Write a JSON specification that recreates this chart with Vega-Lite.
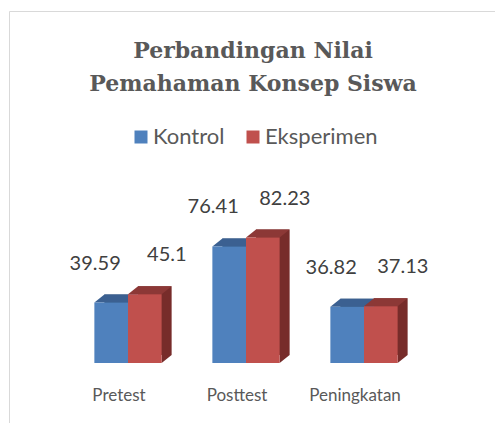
{
  "$schema": "https://vega.github.io/schema/vega-lite/v6.json",
  "width": 488,
  "height": 420,
  "autosize": {"type": "none"},
  "padding": {"left": 9, "top": 11, "right": 0, "bottom": 0},
  "background": "white",
  "config": {"view": {"stroke": "#d9d9d9", "strokeWidth": 1}, "font": "Lato"},
  "title": {
    "text": ["Perbandingan Nilai", "Pemahaman Konsep Siswa"],
    "font": "DejaVu Serif",
    "fontSize": 22,
    "fontWeight": "bold",
    "color": "#595959",
    "anchor": "middle",
    "lineHeight": 33,
    "baseline": "top",
    "offset": -85
  },
  "data": {
    "values": [
      {"tes": "Pretest", "kelompok": "Kontrol", "nilai": 39.59},
      {"tes": "Pretest", "kelompok": "Eksperimen", "nilai": 45.1},
      {"tes": "Posttest", "kelompok": "Kontrol", "nilai": 76.41},
      {"tes": "Posttest", "kelompok": "Eksperimen", "nilai": 82.23},
      {"tes": "Peningkatan", "kelompok": "Kontrol", "nilai": 36.82},
      {"tes": "Peningkatan", "kelompok": "Eksperimen", "nilai": 37.13}
    ]
  },
  "encoding": {
    "x": {
      "field": "tes",
      "type": "nominal",
      "sort": ["Pretest", "Posttest", "Peningkatan"],
      "scale": {"type": "band", "range": [60, 414], "paddingInner": 0.43, "paddingOuter": 0.215},
      "axis": {
        "title": null,
        "orient": "bottom",
        "offset": -44,
        "ticks": false,
        "domain": false,
        "labelPadding": 0,
        "labelAngle": 0,
        "labelOffset": -9,
        "labelFont": "Lato",
        "labelFontSize": 17,
        "labelColor": "#595959",
        "zindex": 1
      }
    },
    "y": {
      "field": "nilai",
      "type": "quantitative",
      "scale": {"domain": [-44.6, 230.8], "nice": false, "zero": false},
      "axis": null
    }
  },
  "layer": [
    {
      "mark": {"type": "bar", "yOffset": -8, "y2Offset": -8},
      "encoding": {
        "xOffset": {
          "field": "kelompok",
          "type": "nominal",
          "sort": ["Kontrol", "Eksperimen"],
          "scale": {"type": "band", "domain": ["Kontrol", "Eksperimen"], "range": [10, 77.26], "paddingInner": 0, "paddingOuter": 0}
        },
        "color": {
          "condition": {"test": "datum.kelompok === 'Kontrol'", "value": "#2f5079"},
          "value": "#772c2a"
        }
      }
    },
    {
      "mark": {"type": "point", "shape": "M16.8,0 L26.8,-8 L16.8,-8 Z", "size": 4, "filled": true, "opacity": 1, "strokeWidth": 0},
      "encoding": {
        "xOffset": {
          "field": "kelompok",
          "type": "nominal",
          "sort": ["Kontrol", "Eksperimen"],
          "scale": {"type": "band", "domain": ["Kontrol", "Eksperimen"], "paddingInner": 0, "paddingOuter": 0}
        },
        "y": {"datum": 0, "type": "quantitative"},
        "color": {
          "condition": {"test": "datum.kelompok === 'Kontrol'", "value": "#2f5079"},
          "value": "#772c2a"
        }
      }
    },
    {
      "mark": {"type": "point", "shape": "M-16.8,0 L-6.8,-8 L26.8,-8 L16.8,0 Z", "size": 4, "filled": true, "opacity": 1, "strokeWidth": 0},
      "encoding": {
        "xOffset": {
          "field": "kelompok",
          "type": "nominal",
          "sort": ["Kontrol", "Eksperimen"],
          "scale": {"type": "band", "domain": ["Kontrol", "Eksperimen"], "paddingInner": 0, "paddingOuter": 0}
        },
        "color": {
          "condition": {"test": "datum.kelompok === 'Kontrol'", "value": "#3b6091"},
          "value": "#8c3836"
        }
      }
    },
    {
      "mark": {"type": "bar"},
      "encoding": {
        "xOffset": {
          "field": "kelompok",
          "type": "nominal",
          "sort": ["Kontrol", "Eksperimen"],
          "scale": {"type": "band", "domain": ["Kontrol", "Eksperimen"], "paddingInner": 0, "paddingOuter": 0}
        },
        "color": {
          "field": "kelompok",
          "type": "nominal",
          "sort": ["Kontrol", "Eksperimen"],
          "scale": {"domain": ["Kontrol", "Eksperimen"], "range": ["#4f81bd", "#c0504d"]},
          "legend": {
            "orient": "none",
            "legendX": 121,
            "legendY": 115,
            "direction": "horizontal",
            "title": null,
            "symbolType": "square",
            "symbolSize": 169,
            "symbolStrokeWidth": 0,
            "labelFont": "Lato",
            "labelFontSize": 22,
            "labelColor": "#595959",
            "labelOffset": 1,
            "columnPadding": 17,
            "padding": 0
          }
        }
      }
    },
    {
      "transform": [{"filter": "datum.kelompok === 'Kontrol'"}],
      "mark": {"type": "text", "baseline": "middle", "dy": -39, "dx": -16, "font": "Lato", "fontSize": 20, "color": "#404040"},
      "encoding": {
        "xOffset": {
          "field": "kelompok",
          "type": "nominal",
          "scale": {"type": "band", "domain": ["Kontrol", "Eksperimen"], "paddingInner": 0, "paddingOuter": 0}
        },
        "text": {"field": "nilai", "type": "nominal"}
      }
    },
    {
      "transform": [{"filter": "datum.kelompok === 'Eksperimen'"}],
      "mark": {"type": "text", "baseline": "middle", "dy": -39, "dx": 22, "font": "Lato", "fontSize": 20, "color": "#404040"},
      "encoding": {
        "xOffset": {
          "field": "kelompok",
          "type": "nominal",
          "scale": {"type": "band", "domain": ["Kontrol", "Eksperimen"], "paddingInner": 0, "paddingOuter": 0}
        },
        "text": {"field": "nilai", "type": "nominal"}
      }
    }
  ],
  "resolve": {"scale": {"xOffset": "independent"}}
}
